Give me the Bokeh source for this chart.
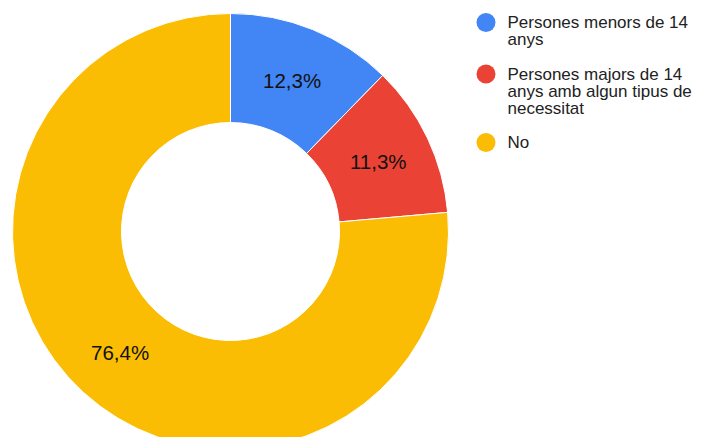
import math
from bokeh.plotting import figure
from bokeh.models import Range1d, ColumnDataSource
from bokeh.core.properties import value
from bokeh.embed import file_html
from bokeh.resources import INLINE

# ---- data ----
categories = ["Persones menors de 14 anys",
              "Persones majors de 14 anys amb algun tipus de necessitat",
              "No"]
legend_lines = [["Persones menors de 14", "anys"],
                ["Persones majors de 14", "anys amb algun tipus de", "necessitat"],
                ["No"]]
shares = [12.3, 11.3, 76.4]
share_labels = ["12,3%", "11,3%", "76,4%"]
colors = ["#4285F4", "#EA4335", "#FBBC04"]

# ---- layout ----
W, H = 697, 437
def py(page_y):
    return H - page_y

cx, cy = 230, py(231)
R_OUT, R_IN = 218, 109
FONT = "Liberation Sans"

p = figure(width=W, height=H, x_range=Range1d(0, W), y_range=Range1d(0, H),
           x_axis_type=None, y_axis_type=None, toolbar_location=None,
           output_backend="svg", min_border=0)
p.grid.visible = False
p.outline_line_color = None
p.background_fill_color = "white"
p.border_fill_color = "white"

total = sum(shares)
starts, ends, lx, ly = [], [], [], []
cum = 0.0
for v in shares:
    f0 = cum / total
    f1 = (cum + v) / total
    starts.append(math.pi / 2 - 2 * math.pi * f0)
    ends.append(math.pi / 2 - 2 * math.pi * f1)
    mid = (f0 + f1) / 2
    rm = (R_OUT + R_IN) / 2
    lx.append(cx + rm * math.sin(2 * math.pi * mid))
    ly.append(cy + rm * math.cos(2 * math.pi * mid))
    cum += v

src = ColumnDataSource(dict(x=[cx] * len(shares), y=[cy] * len(shares),
                            start=starts, end=ends, color=colors,
                            lx=lx, ly=ly, label=share_labels, cat=categories))
p.annular_wedge(x="x", y="y", inner_radius=R_IN, outer_radius=R_OUT,
                start_angle="start", end_angle="end", direction="clock",
                fill_color="color", line_color="white", line_width=1, source=src)
p.text(x="lx", y="ly", text="label", source=src, text_align="center",
       text_baseline="middle", text_font=value(FONT), text_font_size="20.5px",
       text_color="#111111")

# ---- legend ----
lg_cx = 485.5
lg_tx = 507
mid_y = 22.0
dot_x, dot_y, dot_c = [], [], []
tx, ty, tt = [], [], []
for lines, c in zip(legend_lines, colors):
    dot_x.append(lg_cx); dot_y.append(py(mid_y)); dot_c.append(c)
    for i, ln in enumerate(lines):
        tx.append(lg_tx); ty.append(py(mid_y)); tt.append(ln)
        if i < len(lines) - 1:
            mid_y += 17
    mid_y += 34.5

p.scatter(x=dot_x, y=dot_y, size=19, color=dot_c, line_color=None, marker="circle")
p.text(x=tx, y=ty, text=tt, text_align="left", text_baseline="middle",
       text_font=value(FONT), text_font_size="17px", text_color="#222222")

open("out.html", "w").write(file_html(p, INLINE))
